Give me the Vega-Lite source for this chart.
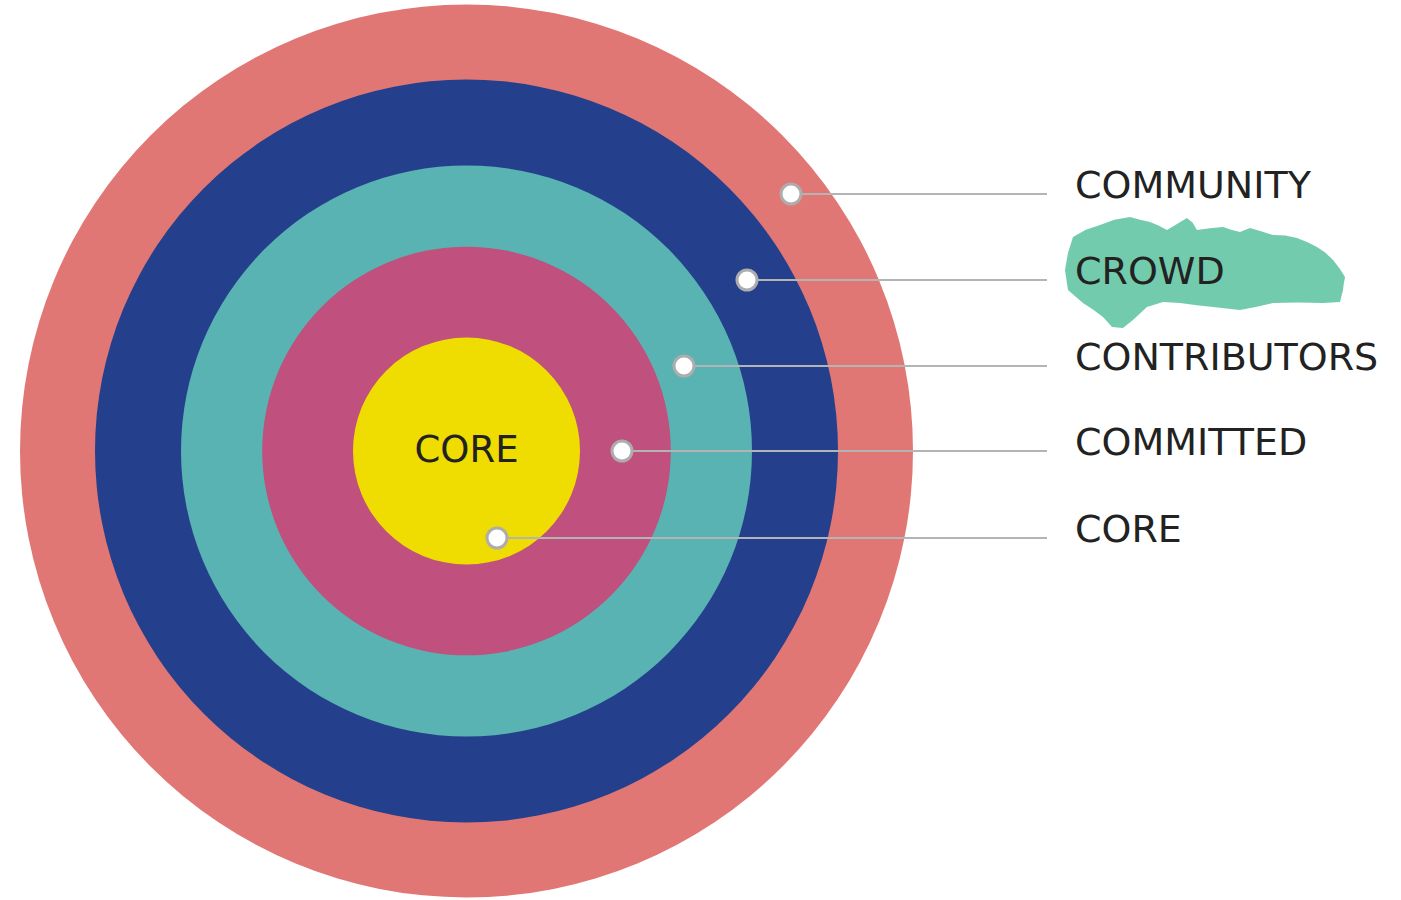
{
  "$schema": "https://vega.github.io/schema/vega-lite/v6.json",
  "width": 1401,
  "height": 900,
  "autosize": {"type": "fit", "contains": "padding"},
  "padding": 0,
  "background": "white",
  "config": {"view": {"stroke": null}},
  "datasets": {
    "rings": [
      {"ring": "COMMUNITY", "r": 446.5},
      {"ring": "CROWD", "r": 371.5},
      {"ring": "CONTRIBUTORS", "r": 285.5},
      {"ring": "COMMITTED", "r": 204.3},
      {"ring": "CORE", "r": 113.5}
    ],
    "labels": [
      {"label": "COMMUNITY", "dx": 324.5, "dy": 257, "lx": 580.5, "tx": 608.5},
      {"label": "CROWD", "dx": 280.5, "dy": 171, "lx": 580.5, "tx": 608.5},
      {"label": "CONTRIBUTORS", "dx": 217.5, "dy": 85, "lx": 580.5, "tx": 608.5},
      {"label": "COMMITTED", "dx": 155.5, "dy": 0, "lx": 580.5, "tx": 608.5},
      {"label": "CORE", "dx": 30.5, "dy": -87, "lx": 580.5, "tx": 608.5}
    ],
    "highlight": [{"label": "CROWD", "x": 739, "y": 178.5}],
    "center": [{"label": "CORE", "x": 0, "y": 0}]
  },
  "layer": [
    {
      "data": {"name": "rings"},
      "mark": {"type": "point", "shape": "circle", "filled": true, "opacity": 1, "strokeWidth": 0},
      "encoding": {
        "x": {"datum": 0, "type": "quantitative", "scale": {"domain": [-466.5, 934.5], "nice": false, "zero": false}, "axis": null},
        "y": {"datum": 0, "type": "quantitative", "scale": {"domain": [-449, 451], "nice": false, "zero": false}, "axis": null},
        "size": {"field": "r", "type": "quantitative", "scale": {"type": "pow", "exponent": 2, "domain": [0, 446.5], "range": [0, 797449]}, "legend": null},
        "color": {"field": "ring", "type": "nominal", "scale": {"domain": ["COMMUNITY", "CROWD", "CONTRIBUTORS", "COMMITTED", "CORE"], "range": ["#E17775", "#243F8B", "#59B3B3", "#C0507D", "#EFDC00"]}, "legend": null},
        "order": {"field": "r", "sort": "descending"}
      }
    },
    {
      "data": {"name": "highlight"},
      "mark": {"type": "point", "filled": true, "opacity": 1, "strokeWidth": 0, "color": "#73CBAD", "size": 81225,
        "shape": "M-0.93,-0.249L-0.84,-0.30L-0.74,-0.333L-0.64,-0.37L-0.53,-0.389L-0.46,-0.37L-0.389,-0.354L-0.33,-0.33L-0.27,-0.298L-0.2,-0.34L-0.13,-0.382L-0.09,-0.35L-0.06,-0.298L0.03,-0.31L0.123,-0.319L0.18,-0.30L0.242,-0.284L0.312,-0.312L0.39,-0.29L0.474,-0.263L0.56,-0.26L0.642,-0.242L0.72,-0.21L0.782,-0.179L0.84,-0.14L0.895,-0.088L0.94,-0.03L0.979,0.032L0.97,0.08L0.965,0.123L0.944,0.207L0.825,0.214L0.65,0.21L0.474,0.214L0.36,0.24L0.242,0.263L0.053,0.242L-0.06,0.23L-0.179,0.214L-0.298,0.207L-0.411,0.242L-0.509,0.333L-0.579,0.389L-0.656,0.382L-0.719,0.312L-0.79,0.26L-0.86,0.214L-0.965,0.123L-0.986,-0.018L-0.965,-0.137Z"},
      "encoding": {
        "x": {"field": "x", "type": "quantitative"},
        "y": {"field": "y", "type": "quantitative"}
      }
    },
    {
      "data": {"name": "labels"},
      "mark": {"type": "rule", "color": "#B4B4B4", "strokeWidth": 2},
      "encoding": {
        "x": {"field": "dx", "type": "quantitative"},
        "x2": {"field": "lx"},
        "y": {"field": "dy", "type": "quantitative"}
      }
    },
    {
      "data": {"name": "labels"},
      "mark": {"type": "point", "shape": "circle", "filled": false, "fill": "white", "fillOpacity": 1, "opacity": 1, "stroke": "#ADADAD", "strokeWidth": 3, "size": 400},
      "encoding": {
        "x": {"field": "dx", "type": "quantitative"},
        "y": {"field": "dy", "type": "quantitative"}
      }
    },
    {
      "data": {"name": "labels"},
      "mark": {"type": "text", "align": "left", "baseline": "alphabetic", "dy": 4, "font": "DejaVu Sans", "fontSize": 38, "color": "#222222"},
      "encoding": {
        "x": {"field": "tx", "type": "quantitative"},
        "y": {"field": "dy", "type": "quantitative"},
        "text": {"field": "label"}
      }
    },
    {
      "data": {"name": "center"},
      "mark": {"type": "text", "align": "center", "baseline": "alphabetic", "dy": 11, "font": "DejaVu Sans", "fontSize": 37, "color": "#222222"},
      "encoding": {
        "x": {"field": "x", "type": "quantitative"},
        "y": {"field": "y", "type": "quantitative"},
        "text": {"field": "label"}
      }
    }
  ]
}
